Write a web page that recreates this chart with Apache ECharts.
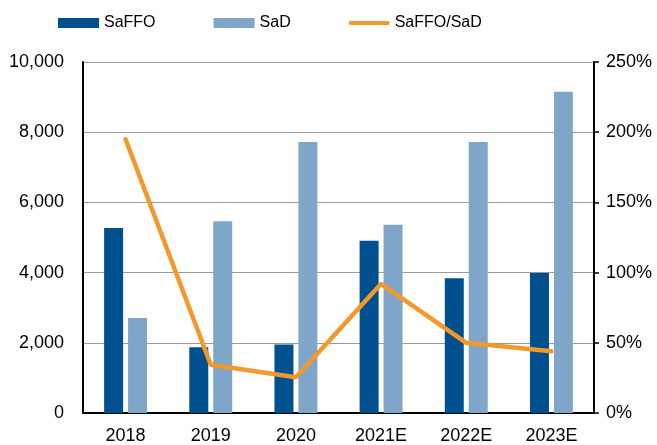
<!DOCTYPE html>
<html>
<head>
<meta charset="utf-8">
<script src="https://cdn.jsdelivr.net/npm/echarts@6/dist/echarts.min.js"></script>
<style>
  html, body { margin: 0; padding: 0; background: #fff; }
  #chart { width: 657px; height: 445px; }
</style>
</head>
<body>
<div id="chart"></div>
<script>
var years = ['2018', '2019', '2020', '2021E', '2022E', '2023E'];
var saffo = [5270, 1870, 1950, 4910, 3840, 3990];
var sad = [2710, 5460, 7720, 5360, 7720, 9150];
var ratio = [195, 34.4, 25.4, 92, 50, 44];

var myChart = echarts.init(document.getElementById('chart'));
var font = 'Arial, "Liberation Sans", sans-serif';

option = {
  animation: false,
  legend: {
    left: 58,
    top: 15,
    padding: 0,
    itemWidth: 41,
    itemHeight: 10,
    itemGap: 58,
    textStyle: { fontFamily: font, fontSize: 16, color: '#000' },
    data: [
      { name: 'SaFFO', icon: 'rect' },
      { name: 'SaD', icon: 'rect' },
      {
        name: 'SaFFO/SaD',
        icon: 'path://M2,0 L39,0 A2,2 0 0 1 39,4 L2,4 A2,2 0 0 1 2,0 Z',
        itemStyle: { color: '#F3982A' }
      }
    ]
  },
  grid: { left: 83, right: 63, top: 62, bottom: 30 },
  xAxis: {
    type: 'category',
    data: years,
    axisLine: { lineStyle: { color: '#000', width: 2 } },
    axisTick: { show: false },
    axisLabel: { color: '#000', fontFamily: font, fontSize: 18, margin: 14 }
  },
  yAxis: [
    {
      type: 'value',
      min: 0,
      max: 10000,
      interval: 2000,
      axisLine: { show: true, lineStyle: { color: '#000', width: 2 } },
      axisTick: { show: false },
      splitLine: { lineStyle: { color: '#9a9a9a', width: 1 } },
      axisLabel: {
        color: '#000', fontFamily: font, fontSize: 18, margin: 19,
        formatter: function (v) { return v.toLocaleString('en-US'); }
      }
    },
    {
      type: 'value',
      min: 0,
      max: 250,
      interval: 50,
      axisLine: { show: true, lineStyle: { color: '#000', width: 2 } },
      axisTick: { show: true, length: 5, lineStyle: { color: '#000', width: 1.5 } },
      splitLine: { show: false },
      axisLabel: {
        color: '#000', fontFamily: font, fontSize: 18, margin: 12,
        formatter: '{value}%'
      }
    }
  ],
  series: [
    {
      name: 'SaFFO',
      type: 'bar',
      data: saffo,
      barWidth: 19,
      barGap: '26%',
      itemStyle: { color: '#004F8E' }
    },
    {
      name: 'SaD',
      type: 'bar',
      data: sad,
      barWidth: 19,
      itemStyle: { color: '#7FA6C8' }
    },
    {
      name: 'SaFFO/SaD',
      type: 'line',
      yAxisIndex: 1,
      data: ratio,
      symbol: 'none',
      itemStyle: { color: '#F3982A' },
      lineStyle: { color: '#F3982A', width: 4.5, cap: 'round' },
      z: 5
    }
  ]
};

myChart.setOption(option);
</script>
</body>
</html>
